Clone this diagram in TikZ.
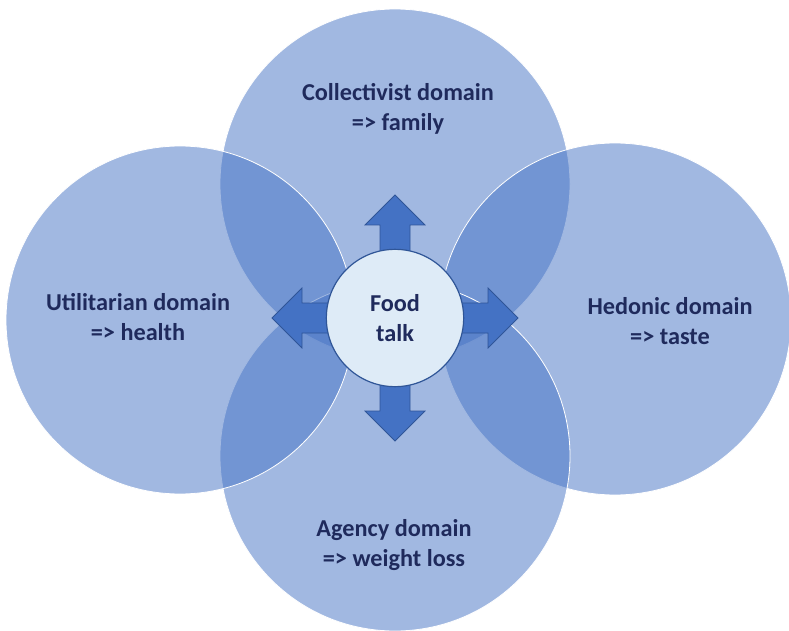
\documentclass[tikz,border=0pt]{standalone}
\usepackage{fontspec}
\usepackage{xcolor}
\setmainfont{Carlito}
\definecolor{domainblue}{HTML}{4472C4}
\definecolor{arrowline}{HTML}{2F5597}
\definecolor{hubfill}{HTML}{DEEBF7}
\definecolor{labeltext}{HTML}{1F2A5C}

\begin{document}
\begin{tikzpicture}[x=0.75pt, y=-0.75pt,
  domaincircle/.style={fill=domainblue, fill opacity=0.5, draw=white, line width=0.6pt},
  domaintext/.style={align=center, font=\fontsize{18.2}{22}\selectfont\bfseries, text=labeltext},
  hubarrow/.style={fill=domainblue, draw=arrowline, line width=0.6pt},
  hub/.style={circle, minimum size=103pt, fill=hubfill, draw=arrowline, line width=0.9pt,
    align=center, font=\fontsize{18.2}{22}\selectfont\bfseries, text=labeltext}]
\useasboundingbox (0,0) rectangle (789,631);

% the four domains
\draw[domaincircle] (395,184) circle (175);
\draw[domaincircle] (615,319) circle (176);
\draw[domaincircle] (395,456) circle (175);
\draw[domaincircle] (180,320) circle (174);

% arrows out of the hub
\foreach \ang in {0,90,180,270}
  \draw[hubarrow, shift={(395,318)}, rotate=\ang]
    (0,-15) -- (93,-15) -- (93,-30) -- (123,0) -- (93,30) -- (93,15) -- (0,15) -- cycle;

\node[hub] (food) at (395,318) {Food\\talk};

\node[domaintext] (collect) at (398,109) {Collectivist domain\\=> family};
\node[domaintext] (util) at (138,317) {Utilitarian domain\\=> health};
\node[domaintext] (hedon) at (670,321) {Hedonic domain\\=> taste};
\node[domaintext] (agency) at (394,545) {Agency domain\\=> weight loss};
\end{tikzpicture}
\end{document}
